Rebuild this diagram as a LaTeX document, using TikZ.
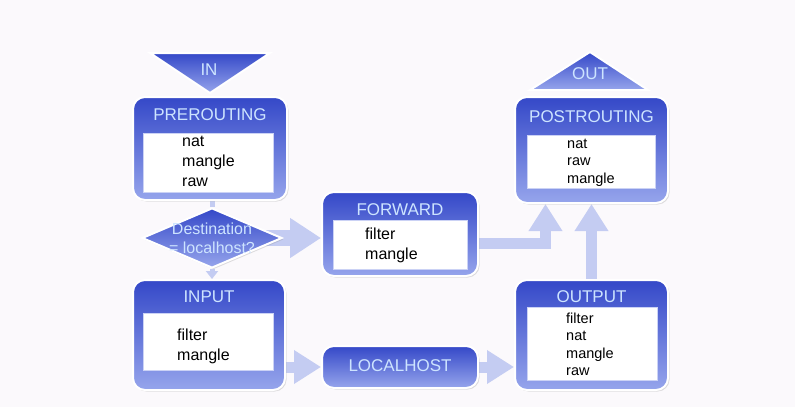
\documentclass[tikz,border=0pt]{standalone}
\usepackage{fontspec}
\setmainfont{Liberation Sans}
\usetikzlibrary{shapes.geometric,shadows,arrows.meta}
\pgfdeclarelayer{fond}
\pgfdeclarelayer{fleches}
\pgfsetlayers{fond,fleches,main}
\definecolor{boxtop}{RGB}{52,72,200}
\definecolor{boxbot}{RGB}{150,165,236}
\definecolor{headtxt}{RGB}{205,228,255}
\definecolor{pipecol}{RGB}{196,204,242}
\definecolor{bgcol}{RGB}{251,249,252}

\begin{document}
\begin{tikzpicture}[x=1pt,y=-1pt]
\tikzset{chainbox/.style={draw=white, line width=2pt, rounded corners=12pt, top color=boxtop, bottom color=boxbot, inner sep=0pt, drop shadow={opacity=0.25, shadow xshift=1.5pt, shadow yshift=-1.5pt}},
  chaintitle/.style={text=headtxt, font=\fontsize{17}{20}\selectfont, inner sep=0pt},
  tablebox/.style={fill=white, draw=boxbot!50, line width=0.4pt, inner sep=0pt},
  entries/.style={align=left, anchor=north west, inner sep=0pt, font=\fontsize{16}{20}\selectfont},
  smallentries/.style={entries, font=\fontsize{14.5}{17.5}\selectfont},
  decision/.style={diamond, draw=white, line width=2pt, top color=boxtop, bottom color=boxbot, inner sep=0pt, drop shadow={opacity=0.25, shadow xshift=1.5pt, shadow yshift=-1.5pt}},
  marker/.style={draw=white, line width=2pt, top color=boxtop, bottom color=boxbot},
  pipe/.style={draw=pipecol, line width=11pt, -{Triangle[width=32pt,length=27pt]}},
  bigpipe/.style={draw=pipecol, line width=16pt, -{Triangle[width=38pt,length=31pt]}},
  stub/.style={draw=pipecol, line width=5pt}}
\begin{pgfonlayer}{fond}
\fill[bgcol] (0,0) rectangle (795,407);
\end{pgfonlayer}
\useasboundingbox (0,0) rectangle (795,407);

\path[marker] (150,53) -- (270,53) -- (210,93) -- cycle;
\node[chaintitle] (intxt) at (209,70) {IN};
\path[marker] (530,90) -- (648,90) -- (590,52) -- cycle;
\node[chaintitle] (outtxt) at (590,74) {OUT};

\node[chainbox, minimum width=154pt, minimum height=103pt] (pre) at (210,148.5) {};
\node[chaintitle] (pretitle) at (210,115) {PREROUTING};
\node[tablebox, minimum width=130pt, minimum height=59pt] (pretab) at (208,162.5) {};
\node[entries] (preitems) at (182,135.5) {nat\\mangle\\raw};

\node[decision, minimum width=140pt, minimum height=60pt] (dest) at (212,238) {};
\node[chaintitle, font=\fontsize{16}{19}\selectfont, align=center] (desttxt) at (212,238) {Destination\\= localhost?};

\node[chainbox, minimum width=156pt, minimum height=84pt] (fwd) at (400,234) {};
\node[chaintitle] (fwdtitle) at (400,210) {FORWARD};
\node[tablebox, minimum width=134pt, minimum height=49pt] (fwdtab) at (400,244.5) {};
\node[entries] (fwditems) at (365,227.5) {filter\\mangle};

\node[chainbox, minimum width=153pt, minimum height=106pt] (post) at (591.5,150) {};
\node[chaintitle] (posttitle) at (591.5,117) {POSTROUTING};
\node[tablebox, minimum width=128pt, minimum height=53pt] (posttab) at (591,161.5) {};
\node[smallentries] (postitems) at (567,138.6) {nat\\raw\\mangle};

\node[chainbox, minimum width=152pt, minimum height=110pt] (inp) at (209,335) {};
\node[chaintitle] (inptitle) at (209,297) {INPUT};
\node[tablebox, minimum width=130pt, minimum height=57pt] (inptab) at (208,341.5) {};
\node[entries] (inpitems) at (177,328.3) {filter\\mangle};

\node[chainbox, minimum width=156pt, minimum height=42pt] (local) at (400,367) {};
\node[chaintitle] (localtxt) at (400,366) {LOCALHOST};

\node[chainbox, minimum width=153pt, minimum height=110pt] (out) at (591.5,335) {};
\node[chaintitle] (outtitle) at (591.5,297) {OUTPUT};
\node[tablebox, minimum width=130pt, minimum height=73pt] (outtab) at (592,343.5) {};
\node[smallentries] (outitems) at (566,312.4) {filter\\nat\\mangle\\raw};

\begin{pgfonlayer}{fleches}
\draw[stub] (dest.north |- pre.south) -- (dest.north);
\draw[stub, -{Triangle[width=12pt,length=8pt]}] (dest.south) -- (dest.south |- inp.north);
\draw[bigpipe] (dest.center) -- (dest.center -| fwd.west);
\draw[pipe] ([yshift=-9pt]fwd.center) -| ([xshift=-46pt]post.south);
\draw[pipe] (out.north) -- (post.south);
\draw[pipe] (inp.center |- local.west) -- (local.west);
\draw[pipe] (local.center) -- (local.east -| out.west);
\end{pgfonlayer}
\end{tikzpicture}
\end{document}
